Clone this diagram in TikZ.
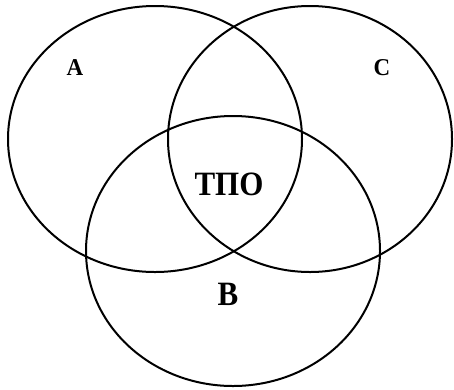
\documentclass[tikz,border=0pt]{standalone}
\usepackage{fontspec}
\setmainfont{Liberation Serif}
\usepackage{tikz}
\tikzset{
	setline/.style={draw=black, line width=2pt},
	smalllabel/.style={inner sep=0pt, font=\bfseries\fontsize{23}{23}\selectfont, transform shape, yscale=1.05},
	biglabel/.style={inner sep=0pt, font=\bfseries\fontsize{31}{31}\selectfont, transform shape, yscale=1.1},
}
\begin{document}
\begin{tikzpicture}[x=1pt, y=-1pt]
	\useasboundingbox (0,0) rectangle (454,389);
	% the three sets
	\draw[setline] (155,139) ellipse [x radius=147, y radius=133];
	\draw[setline] (310,139) ellipse [x radius=142, y radius=133];
	\draw[setline] (233,251) ellipse [x radius=147, y radius=135];
	% labels
	\node[smalllabel] (setA) at (75,68) {A};
	\node[smalllabel] (setC) at (382,68) {C};
	\node[biglabel] (tpo) at (229,184) {ТПО};
	\node[biglabel] (setB) at (228,294) {B};
\end{tikzpicture}
\end{document}
